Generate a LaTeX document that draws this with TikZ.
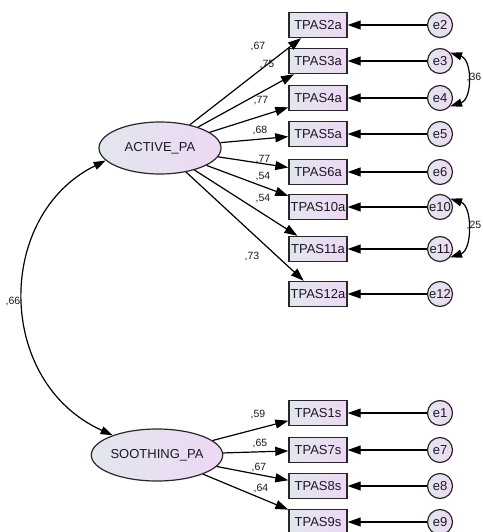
\documentclass[tikz,border=0pt]{standalone}
\usepackage{fontspec}
\setmainfont{Liberation Sans}
\usetikzlibrary{shapes.geometric,arrows.meta}
\definecolor{gl}{RGB}{226,230,238}
\definecolor{gr}{RGB}{238,216,243}
\definecolor{bd}{RGB}{40,40,40}
\definecolor{tx}{RGB}{25,25,35}
\begin{document}
\begin{tikzpicture}[x=1pt,y=-1pt,
  obs/.style={draw=bd,line width=1.4pt,rectangle,minimum width=58pt,minimum height=25pt,inner sep=0pt,left color=gl,right color=gr,text=tx,font=\fontsize{13}{15}\selectfont},
  lat/.style={draw=bd,line width=1.2pt,ellipse,minimum width=122pt,minimum height=52pt,inner sep=0pt,left color=gl,right color=gr,text=tx,font=\fontsize{13}{15}\selectfont},
  err/.style={draw=bd,line width=1.2pt,circle,minimum size=25pt,inner sep=0pt,left color=gl,right color=gr,text=tx,font=\fontsize{13}{15}\selectfont},
  load/.style={draw=black,line width=1.2pt,-{Triangle[length=13pt,width=9pt]}},
  cov/.style={draw=black,line width=1.2pt,{Triangle[length=12pt,width=8pt]}-{Triangle[length=12pt,width=8pt]}},
  lbl/.style={font=\fontsize{10.5}{12}\selectfont,text=tx,inner sep=0pt}]
\useasboundingbox (0,0) rectangle (482,532);

% latent variables
\node[lat] (act) at (160,148) {ACTIVE\_PA};
\node[lat] (sooth) at (157,455) {SOOTHING\_PA};

% observed variables
\node[obs] (t2) at (318,25) {TPAS2a};
\node[obs] (t3) at (318,61) {TPAS3a};
\node[obs] (t4) at (318,98) {TPAS4a};
\node[obs] (t5) at (318,134) {TPAS5a};
\node[obs] (t6) at (318,172) {TPAS6a};
\node[obs] (t10) at (318,207) {TPAS10a};
\node[obs] (t11) at (318,249) {TPAS11a};
\node[obs] (t12) at (318,294) {TPAS12a};
\node[obs] (t1) at (318,413) {TPAS1s};
\node[obs] (t7) at (318,450) {TPAS7s};
\node[obs] (t8) at (318,486) {TPAS8s};
\node[obs] (t9) at (318,522) {TPAS9s};

% errors
\node[err] (e2) at (440,25) {e2};
\node[err] (e3) at (440,61) {e3};
\node[err] (e4) at (440,98) {e4};
\node[err] (e5) at (440,134) {e5};
\node[err] (e6) at (440,172) {e6};
\node[err] (e10) at (440,207) {e10};
\node[err] (e11) at (440,249) {e11};
\node[err] (e12) at (440,294) {e12};
\node[err] (e1) at (440,413) {e1};
\node[err] (e7) at (440,450) {e7};
\node[err] (e8) at (440,486) {e8};
\node[err] (e9) at (440,522) {e9};

% loadings
\foreach \t in {t2,t3,t4,t5,t6,t10,t11,t12}{\draw[load] (act) -- (\t);}
\foreach \t in {t1,t7,t8,t9}{\draw[load] (sooth) -- (\t);}
% error paths
\foreach \e/\t in {e2/t2,e3/t3,e4/t4,e5/t5,e6/t6,e10/t10,e11/t11,e12/t12,e1/t1,e7/t7,e8/t8,e9/t9}{\draw[load] (\e) -- (\t);}

% covariances
\draw[cov] (act.193) .. controls (-5,215) and (-5,382) .. (sooth.156);
\draw[cov] (e3.40) .. controls (472.5,60) and (472.5,99) .. (e4.-40);
\draw[cov] (e10.40) .. controls (472.5,206) and (472.5,250) .. (e11.-40);

% labels
\node[lbl] (l1) at (258,47) {,67};
\node[lbl] (l2) at (267,65) {,75};
\node[lbl] (l3) at (261,101) {,77};
\node[lbl] (l4) at (260,131) {,68};
\node[lbl] (l5) at (263,160) {,77};
\node[lbl] (l6) at (263,177) {,54};
\node[lbl] (l7) at (263,199) {,54};
\node[lbl] (l8) at (252,257) {,73};
\node[lbl] (l9) at (258,415) {,59};
\node[lbl] (l10) at (260,443) {,65};
\node[lbl] (l11) at (259,467) {,67};
\node[lbl] (l12) at (261,488) {,64};
\node[lbl] (l13) at (13,302) {,66};
\node[lbl,anchor=east] (l14) at (481.5,78) {,36};
\node[lbl,anchor=east] (l15) at (481.5,226) {,25};
\end{tikzpicture}
\end{document}
